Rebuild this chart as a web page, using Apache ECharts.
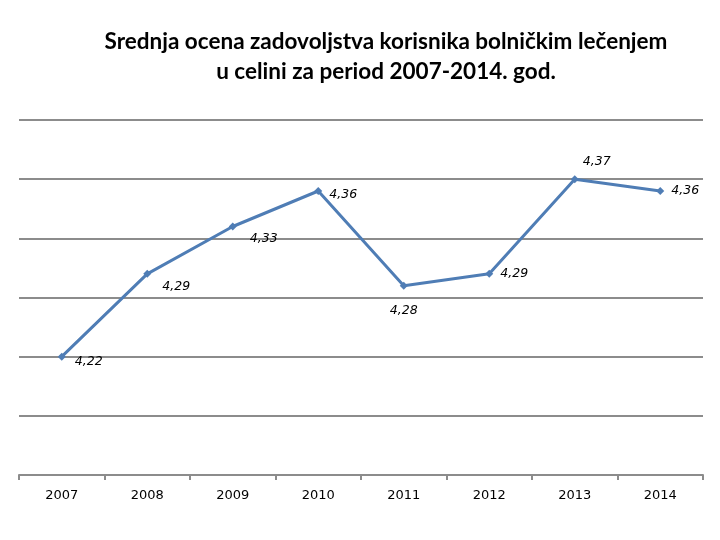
<!DOCTYPE html>
<html>
<head>
<meta charset="utf-8">
<script src="https://cdn.jsdelivr.net/npm/echarts@6/dist/echarts.min.js"></script>
<style>
  html, body { margin: 0; padding: 0; background: #fff; }
  #main { width: 720px; height: 540px; }
</style>
</head>
<body>
<div id="main"></div>
<script>
// podaci
var years = ['2007', '2008', '2009', '2010', '2011', '2012', '2013', '2014'];
var ocena = [4.22, 4.29, 4.33, 4.36, 4.28, 4.29, 4.37, 4.36];

// gde stoji etiketa za svaku tacku (kao u originalu)
var labelPlace = [
  { position: 'right', offset: [4, 5] },
  { position: 'right', offset: [6, 13] },
  { position: 'right', offset: [8, 12] },
  { position: 'right', offset: [2, 4] },
  { position: 'bottom', offset: [0, 10] },
  { position: 'right', offset: [2, 0] },
  { position: 'top', offset: [22, -2] },
  { position: 'right', offset: [2, 0] }
];

var chart = echarts.init(document.getElementById('main'));

chart.setOption({
  animation: false,
  title: {
    text: 'Srednja ocena zadovoljstva korisnika bolničkim lečenjem\nu celini za period 2007-2014. god.',
    left: 381,
    top: 22,
    textAlign: 'center',
    textStyle: {
      fontFamily: 'Lato',
      fontWeight: 'bold',
      fontSize: 22.5,
      lineHeight: 30,
      color: '#000'
    }
  },
  grid: { left: 19, right: 17, top: 120, bottom: 65 },
  xAxis: {
    type: 'category',
    data: years,
    boundaryGap: true,
    axisLine: { lineStyle: { color: '#8c8c8c', width: 2 } },
    axisTick: { show: true, length: 5, lineStyle: { color: '#8c8c8c', width: 2 } },
    axisLabel: {
      color: '#000',
      fontFamily: 'DejaVu Sans',
      fontSize: 13,
      margin: 14
    }
  },
  yAxis: {
    type: 'value',
    min: 4.12,
    max: 4.42,
    interval: 0.05,
    axisLine: { show: false },
    axisTick: { show: false },
    axisLabel: { show: false },
    splitLine: { lineStyle: { color: '#8c8c8c', width: 2 } }
  },
  series: [{
    type: 'line',
    data: ocena.map(function (v, i) {
      return { value: v, label: labelPlace[i] };
    }),
    symbol: 'diamond',
    symbolSize: 8,
    lineStyle: { color: '#4f7db5', width: 3 },
    itemStyle: { color: '#4f7db5' },
    label: {
      show: true,
      fontFamily: 'DejaVu Sans',
      fontStyle: 'italic',
      fontSize: 12.5,
      color: '#000',
      formatter: function (p) { return String(p.value).replace('.', ','); }
    }
  }]
});
</script>
</body>
</html>
